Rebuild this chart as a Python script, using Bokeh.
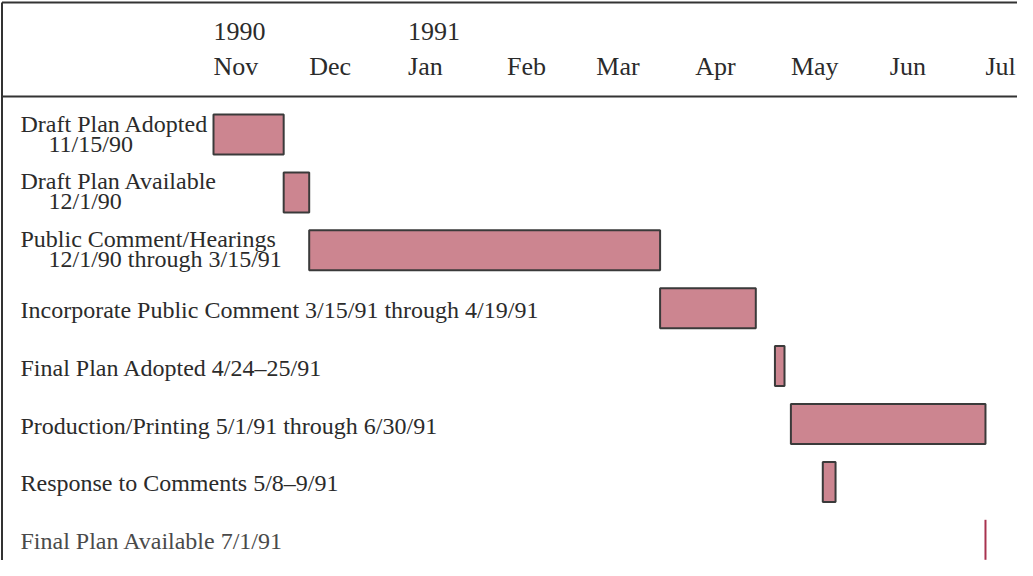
from datetime import date
from bokeh.plotting import figure
from bokeh.models import Range1d, ColumnDataSource
from bokeh.core.properties import value
from bokeh.embed import file_html
from bokeh.resources import INLINE

# ---- data ----
task_line1 = ["Draft Plan Adopted", "Draft Plan Available", "Public Comment/Hearings",
              "Incorporate Public Comment 3/15/91 through 4/19/91",
              "Final Plan Adopted 4/24\u201325/91",
              "Production/Printing 5/1/91 through 6/30/91",
              "Response to Comments 5/8\u20139/91",
              "Final Plan Available 7/1/91"]
task_line2 = ["11/15/90", "12/1/90", "12/1/90 through 3/15/91", "", "", "", "", ""]
bar_start = ["1990-11-01", "1990-11-23", "1990-12-01", "1991-03-21",
             "1991-04-26", "1991-05-01", "1991-05-11"]
bar_end = ["1990-11-23", "1990-12-01", "1991-03-21", "1991-04-20",
           "1991-04-29", "1991-07-01", "1991-05-15"]
milestone = ["1991-07-01"]
month_labels = ["Nov", "Dec", "Jan", "Feb", "Mar", "Apr", "May", "Jun", "Jul"]
month_starts = ["1990-11-01", "1990-12-01", "1991-01-01", "1991-02-01", "1991-03-01",
                "1991-04-01", "1991-05-01", "1991-06-01", "1991-07-01"]
year_labels = ["1990", "1991"]
year_starts = ["1990-11-01", "1991-01-01"]

ORIGIN = date(1990, 11, 1)


def day(s):
    y, m, d = map(int, s.split("-"))
    return (date(y, m, d) - ORIGIN).days


W, H = 1017, 560
PX_PER_DAY = 3.19
X0 = 213.0            # figure px of ORIGIN
ROW0 = 134.0          # figure px of first row center
PITCH = 57.9

x_start = -X0 / PX_PER_DAY
x_end = (W - X0) / PX_PER_DAY
y_top = -ROW0 / PITCH
y_bot = (H - ROW0) / PITCH


def px_x(px):
    return x_start + px / PX_PER_DAY


def px_y(px):
    return y_top + px / PITCH


p = figure(width=W, height=H, output_backend="svg", toolbar_location=None,
           x_range=Range1d(x_start, x_end), y_range=Range1d(y_bot, y_top),
           min_border=0, outline_line_color=None)
p.axis.visible = False
p.grid.visible = False
p.background_fill_color = "white"
p.border_fill_color = "white"

INK = "#2b2b2b"
FONT = value("Liberation Serif")

# frame lines
left_x = px_x(1.5)
p.segment(x0=[left_x, left_x, left_x], y0=[px_y(2), px_y(2), px_y(96)],
          x1=[x_end, left_x, x_end], y1=[px_y(2), y_bot, px_y(96)],
          line_color="#333333", line_width=2)

# header: years and months
p.text(x=[day(s) for s in year_starts], y=[px_y(30.5)] * len(year_starts), text=year_labels,
       text_font=FONT, text_font_size="26px", text_color=INK,
       text_baseline="middle", text_align="left")
p.text(x=[day(s) for s in month_starts], y=[px_y(65.5)] * len(month_starts), text=month_labels,
       text_font=FONT, text_font_size="26px", text_color=INK,
       text_baseline="middle", text_align="left")

# bars
n = len(bar_start)
half = 20.0 / PITCH
src = ColumnDataSource(dict(
    left=[day(s) for s in bar_start], right=[day(s) for s in bar_end],
    top=[i - half for i in range(n)], bottom=[i + half for i in range(n)]))
p.quad(left="left", right="right", top="top", bottom="bottom", source=src,
       fill_color="#cc8590", line_color="#3a3a3a", line_width=2)

# milestone
mi = len(task_line1) - 1
p.segment(x0=[day(s) for s in milestone], x1=[day(s) for s in milestone],
          y0=[mi - half], y1=[mi + half], line_color="#a8324f", line_width=2)

# labels
lx1 = px_x(20)
lx2 = px_x(48)
l1x, l1y, l1t = [], [], []
l2x, l2y, l2t = [], [], []
for i, (a, b) in enumerate(zip(task_line1, task_line2)):
    if b:
        l1x.append(lx1); l1y.append(i - 11 / PITCH); l1t.append(a)
        l2x.append(lx2); l2y.append(i + 9 / PITCH); l2t.append(b)
    else:
        l1x.append(lx1); l1y.append(i + 1.5 / PITCH); l1t.append(a)
colors = [INK] * (len(l1t) - 1) + ["#4a4a4a"]
p.text(x=l1x, y=l1y, text=l1t, text_font=FONT, text_font_size="24px",
       text_color=colors, text_baseline="middle", text_align="left")
p.text(x=l2x, y=l2y, text=l2t, text_font=FONT, text_font_size="24px",
       text_color=INK, text_baseline="middle", text_align="left")

open("out.html", "w").write(file_html(p, INLINE))
